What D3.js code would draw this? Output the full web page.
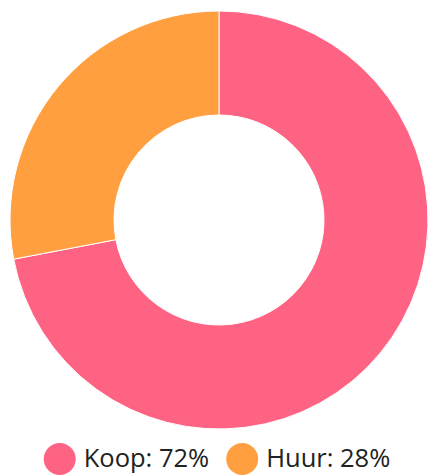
<!DOCTYPE html>
<html>
<head>
<meta charset="utf-8">
<script src="https://cdn.jsdelivr.net/npm/d3@7"></script>
<style>
  html, body { margin: 0; padding: 0; background: #fff; }
</style>
</head>
<body>
<div id="content"></div>
<script>
const W = 430, H = 476;

// chart data
const categories = ["Koop", "Huur"];
const values = [72, 28];
const colors = ["#ff6384", "#ff9f40"];

const cx = 219, cy = 220;
const R = 209, r = 105;

const svg = d3.select("#content")
    .append("svg")
    .attr("width", W)
    .attr("height", H);

const data = categories.map((c, i) => ({ name: c, value: values[i], color: colors[i] }));

const pie = d3.pie()
    .sort(null)
    .value(d => d.value);

const arc = d3.arc()
    .innerRadius(r)
    .outerRadius(R);

const center = svg.append("g").attr("transform", "translate(" + [cx, cy] + ")");

center.selectAll(".slice")
    .data(pie(data))
    .enter()
        .append("path")
        .attr("class", "slice")
        .attr("d", arc)
        .attr("fill", d => d.data.color)
        .attr("stroke", "#fff")
        .attr("stroke-width", 1);

// legend
const total = d3.sum(values);
const dotR = 16, gap = 8, itemGap = 17;
const legend = svg.append("g").attr("font-family", "'Open Sans', sans-serif");

const items = legend.selectAll(".item")
    .data(data)
    .enter()
        .append("g")
        .attr("class", "item");

items.append("circle")
    .attr("r", dotR)
    .attr("cy", 459)
    .attr("fill", d => d.color);

items.append("text")
    .attr("y", 467)
    .attr("font-size", 25.5)
    .attr("fill", "#222")
    .text(d => d.name + ": " + Math.round(d.value / total * 100) + "%");

// lay the items out in one centered row
let x = 0;
const pos = [];
items.each(function() {
    const w = d3.select(this).select("text").node().getComputedTextLength();
    pos.push(x);
    x += 2 * dotR + gap + w + itemGap;
});
const rowW = x - itemGap;
const x0 = 217 - rowW / 2;
items.each(function(d, i) {
    const g = d3.select(this);
    g.select("circle").attr("cx", x0 + pos[i] + dotR);
    g.select("text").attr("x", x0 + pos[i] + 2 * dotR + gap);
});
</script>
</body>
</html>
